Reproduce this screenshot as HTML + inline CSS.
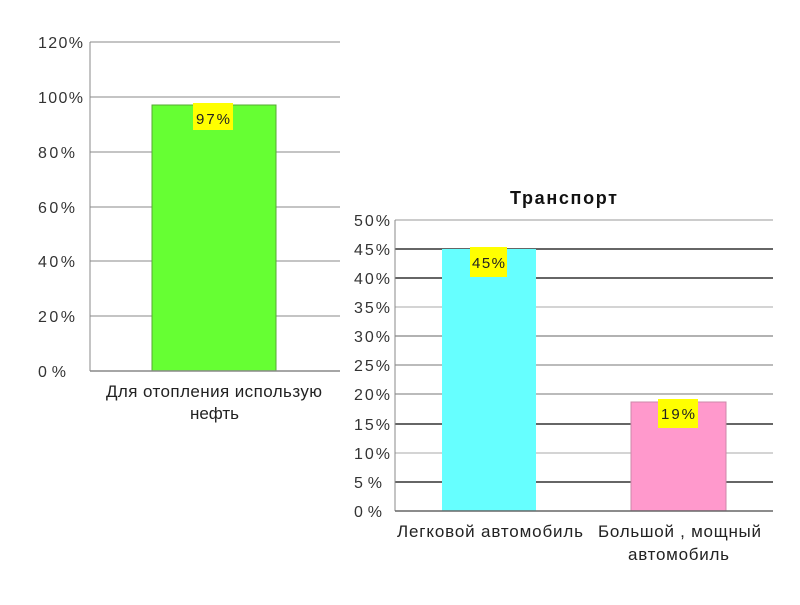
<!DOCTYPE html>
<html><head><meta charset="utf-8"><style>body{margin:0;background:#fff}</style></head><body>
<svg width="800" height="600" xmlns="http://www.w3.org/2000/svg" font-family="Liberation Sans, DejaVu Sans, sans-serif">
<rect width="800" height="600" fill="#fff"/>
<!-- Chart 1 -->
<g stroke="#888" stroke-width="1">
<line x1="90" y1="42" x2="340" y2="42"/><line x1="90" y1="97" x2="340" y2="97"/>
<line x1="90" y1="152" x2="340" y2="152"/><line x1="90" y1="207" x2="340" y2="207"/>
<line x1="90" y1="261" x2="340" y2="261"/><line x1="90" y1="316" x2="340" y2="316"/>
</g>
<line x1="90" y1="42" x2="90" y2="371" stroke="#888"/>
<rect x="152" y="105" width="124" height="266" fill="#66ff33" stroke="#55aa33"/>
<line x1="90" y1="371" x2="340" y2="371" stroke="#888" stroke-width="1.5"/>
<rect x="193" y="103" width="40" height="27" fill="#ffff00"/>
<text x="196" y="124" font-size="15" textLength="34" fill="#222">97%</text>
<g font-size="16" fill="#333">
<text x="38" y="48" textLength="45">120%</text><text x="38" y="103" textLength="45">100%</text><text x="38" y="158" textLength="37">80%</text>
<text x="38" y="213" textLength="37">60%</text><text x="38" y="267" textLength="37">40%</text><text x="38" y="322" textLength="37">20%</text><text x="38" y="377" textLength="28">0%</text>
</g>
<text x="106" y="397" font-size="17" textLength="216" fill="#222">Для отопления использую</text>
<text x="190" y="419" font-size="17" textLength="49" fill="#222">нефть</text>
<!-- Chart 2 -->
<text x="510" y="204" font-size="18" font-weight="bold" textLength="107" fill="#111">Транспорт</text>
<g stroke-width="1">
<line x1="395" y1="220" x2="773" y2="220" stroke="#999"/>
<line x1="395" y1="249" x2="773" y2="249" stroke="#333" stroke-width="1.5"/>
<line x1="395" y1="278" x2="773" y2="278" stroke="#333" stroke-width="1.5"/>
<line x1="395" y1="307" x2="773" y2="307" stroke="#aaa"/>
<line x1="395" y1="336" x2="773" y2="336" stroke="#666"/>
<line x1="395" y1="365" x2="773" y2="365" stroke="#777"/>
<line x1="395" y1="394" x2="773" y2="394" stroke="#777"/>
<line x1="395" y1="424" x2="773" y2="424" stroke="#333" stroke-width="1.5"/>
<line x1="395" y1="453" x2="773" y2="453" stroke="#aaa"/>
<line x1="395" y1="482" x2="773" y2="482" stroke="#333" stroke-width="1.5"/>
</g>
<line x1="395" y1="220" x2="395" y2="511" stroke="#888"/>
<rect x="442" y="249" width="94" height="262" fill="#66ffff"/>
<rect x="631" y="402" width="95" height="109" fill="#ff99cc" stroke="#cc88aa"/>
<line x1="395" y1="511" x2="773" y2="511" stroke="#666" stroke-width="1.5"/>
<rect x="470" y="247" width="37" height="30" fill="#ffff00"/>
<text x="472" y="268" font-size="15" textLength="33" fill="#222">45%</text>
<rect x="658" y="399" width="40" height="29" fill="#ffff00"/>
<text x="661" y="419" font-size="15" textLength="34" fill="#222">19%</text>
<g font-size="16" fill="#333">
<text x="354" y="226" textLength="36">50%</text><text x="354" y="255" textLength="36">45%</text><text x="354" y="284" textLength="36">40%</text>
<text x="354" y="313" textLength="36">35%</text><text x="354" y="342" textLength="36">30%</text><text x="354" y="371" textLength="36">25%</text>
<text x="354" y="400" textLength="36">20%</text><text x="354" y="430" textLength="36">15%</text><text x="354" y="459" textLength="36">10%</text>
<text x="354" y="488" textLength="28">5%</text><text x="354" y="517" textLength="28">0%</text>
</g>
<text x="397" y="537" font-size="17" textLength="186" fill="#222">Легковой автомобиль</text>
<text x="598" y="537" font-size="17" textLength="163" fill="#222">Большой , мощный</text>
<text x="628" y="560" font-size="17" textLength="101" fill="#222">автомобиль</text>
</svg>
</body></html>
